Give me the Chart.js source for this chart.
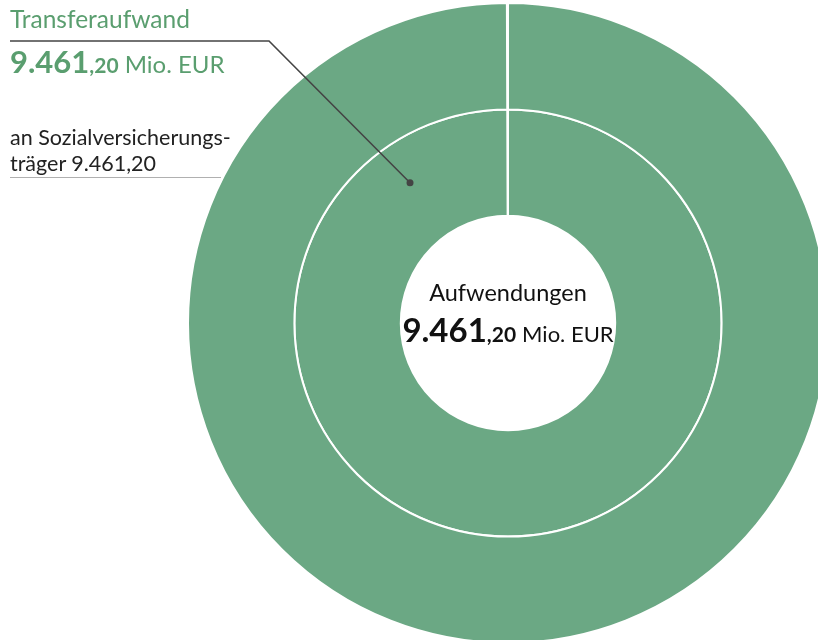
<!DOCTYPE html>
<html lang="de">
<head>
<meta charset="utf-8">
<script src="https://cdn.jsdelivr.net/npm/chart.js@4.4.1/dist/chart.umd.min.js"></script>
<style>
    html, body { margin: 0; padding: 0; background: #fff; }
    body { width: 818px; height: 640px; overflow: hidden; position: relative; font-family: Lato, "Open Sans", sans-serif; }
    #wrap { position: absolute; left: 0; top: 0; width: 840px; height: 660px; }
    .lbl { position: absolute; white-space: nowrap; }
    #title { left: 10px; top: 4px; color: #5a9e6f; font-size: 24.5px; line-height: 30px; }
    #titleVal { left: 10px; top: 44px; color: #5a9e6f; font-size: 24px; line-height: 34px; }
    .big { font-weight: 700; font-size: 31px; }
    .dec { font-weight: 700; font-size: 21px; }
    #sub { left: 10px; top: 124px; color: #222; font-size: 21.5px; line-height: 26px; }
    #center { left: 388px; width: 240px; top: 274px; text-align: center; color: #111; font-size: 23.5px; line-height: 37px; }
    #center .big { font-size: 33px; }
    #center .dec { font-size: 21px; }
    #center .unit { font-size: 22px; }
</style>
</head>
<body>
<div id="wrap"><canvas id="donut" width="840" height="660"></canvas></div>

<div class="lbl" id="title"></div>
<div class="lbl" id="titleVal"></div>
<div class="lbl" id="sub"></div>
<div class="lbl" id="center"></div>

<script>
// ==== DATA ====
const outerLabels = ["Transferaufwand"];
const outerValues = [9461.20];
const innerLabels = ["an Sozialversicherungsträger"];
const innerValues = [9461.20];
const totalLabel = "Aufwendungen";
const totalValue = 9461.20;
const unit = "Mio. EUR";

const green = "#6ba884";

// ==== NUMBER FORMAT (de) ====
function fmt(v) {
    return v.toLocaleString("de-DE", { minimumFractionDigits: 2, maximumFractionDigits: 2 });
}
function bigNumber(v) {
    const s = fmt(v);
    const i = s.lastIndexOf(",");
    return `<span class="big">${s.slice(0, i)}</span><span class="dec">${s.slice(i)}</span> <span class="unit">${unit}</span>`;
}

document.getElementById("title").textContent = outerLabels[0];
document.getElementById("titleVal").innerHTML = bigNumber(outerValues[0]);
document.getElementById("sub").innerHTML = "an Sozialversicherungs-<br>träger " + fmt(innerValues[0]);
document.getElementById("center").innerHTML = totalLabel + "<br>" + bigNumber(totalValue);

// ==== LEADER LINES ====
const leaderPlugin = {
    id: "leader",
    afterDraw(chart) {
        const ctx = chart.ctx;
        const arc = chart.getDatasetMeta(1).data[0];
        const ang = -Math.PI / 2 - 0.61;
        const r = arc.innerRadius + (arc.outerRadius - arc.innerRadius) * 0.6;
        const px = arc.x + Math.cos(ang) * r;
        const py = arc.y + Math.sin(ang) * r;

        ctx.save();
        // title underline + leader to the inner ring
        ctx.strokeStyle = "#444";
        ctx.lineWidth = 1.6;
        ctx.beginPath();
        ctx.moveTo(10, 41);
        ctx.lineTo(269, 41);
        ctx.lineTo(px, py);
        ctx.stroke();
        ctx.fillStyle = "#444";
        ctx.beginPath();
        ctx.arc(px, py, 3.5, 0, Math.PI * 2);
        ctx.fill();

        // underline of the inner ring label
        ctx.strokeStyle = "#b0b0b0";
        ctx.lineWidth = 1;
        ctx.beginPath();
        ctx.moveTo(10, 177.5);
        ctx.lineTo(221, 177.5);
        ctx.stroke();
        ctx.restore();
    }
};

new Chart(document.getElementById("donut"), {
    type: "doughnut",
    data: {
        labels: outerLabels,
        datasets: [
            { data: outerValues, backgroundColor: green, borderColor: "#fff", borderWidth: 2 },
            { data: innerValues, backgroundColor: green, borderColor: "#fff", borderWidth: 2 }
        ]
    },
    options: {
        responsive: false,
        animation: false,
        events: [],
        cutout: "33.5%",
        circumference: 359.8,
        layout: { padding: { left: 187, top: 2, right: 11, bottom: 16 } },
        plugins: { legend: { display: false }, tooltip: { enabled: false } }
    },
    plugins: [leaderPlugin]
});
</script>
</body>
</html>
